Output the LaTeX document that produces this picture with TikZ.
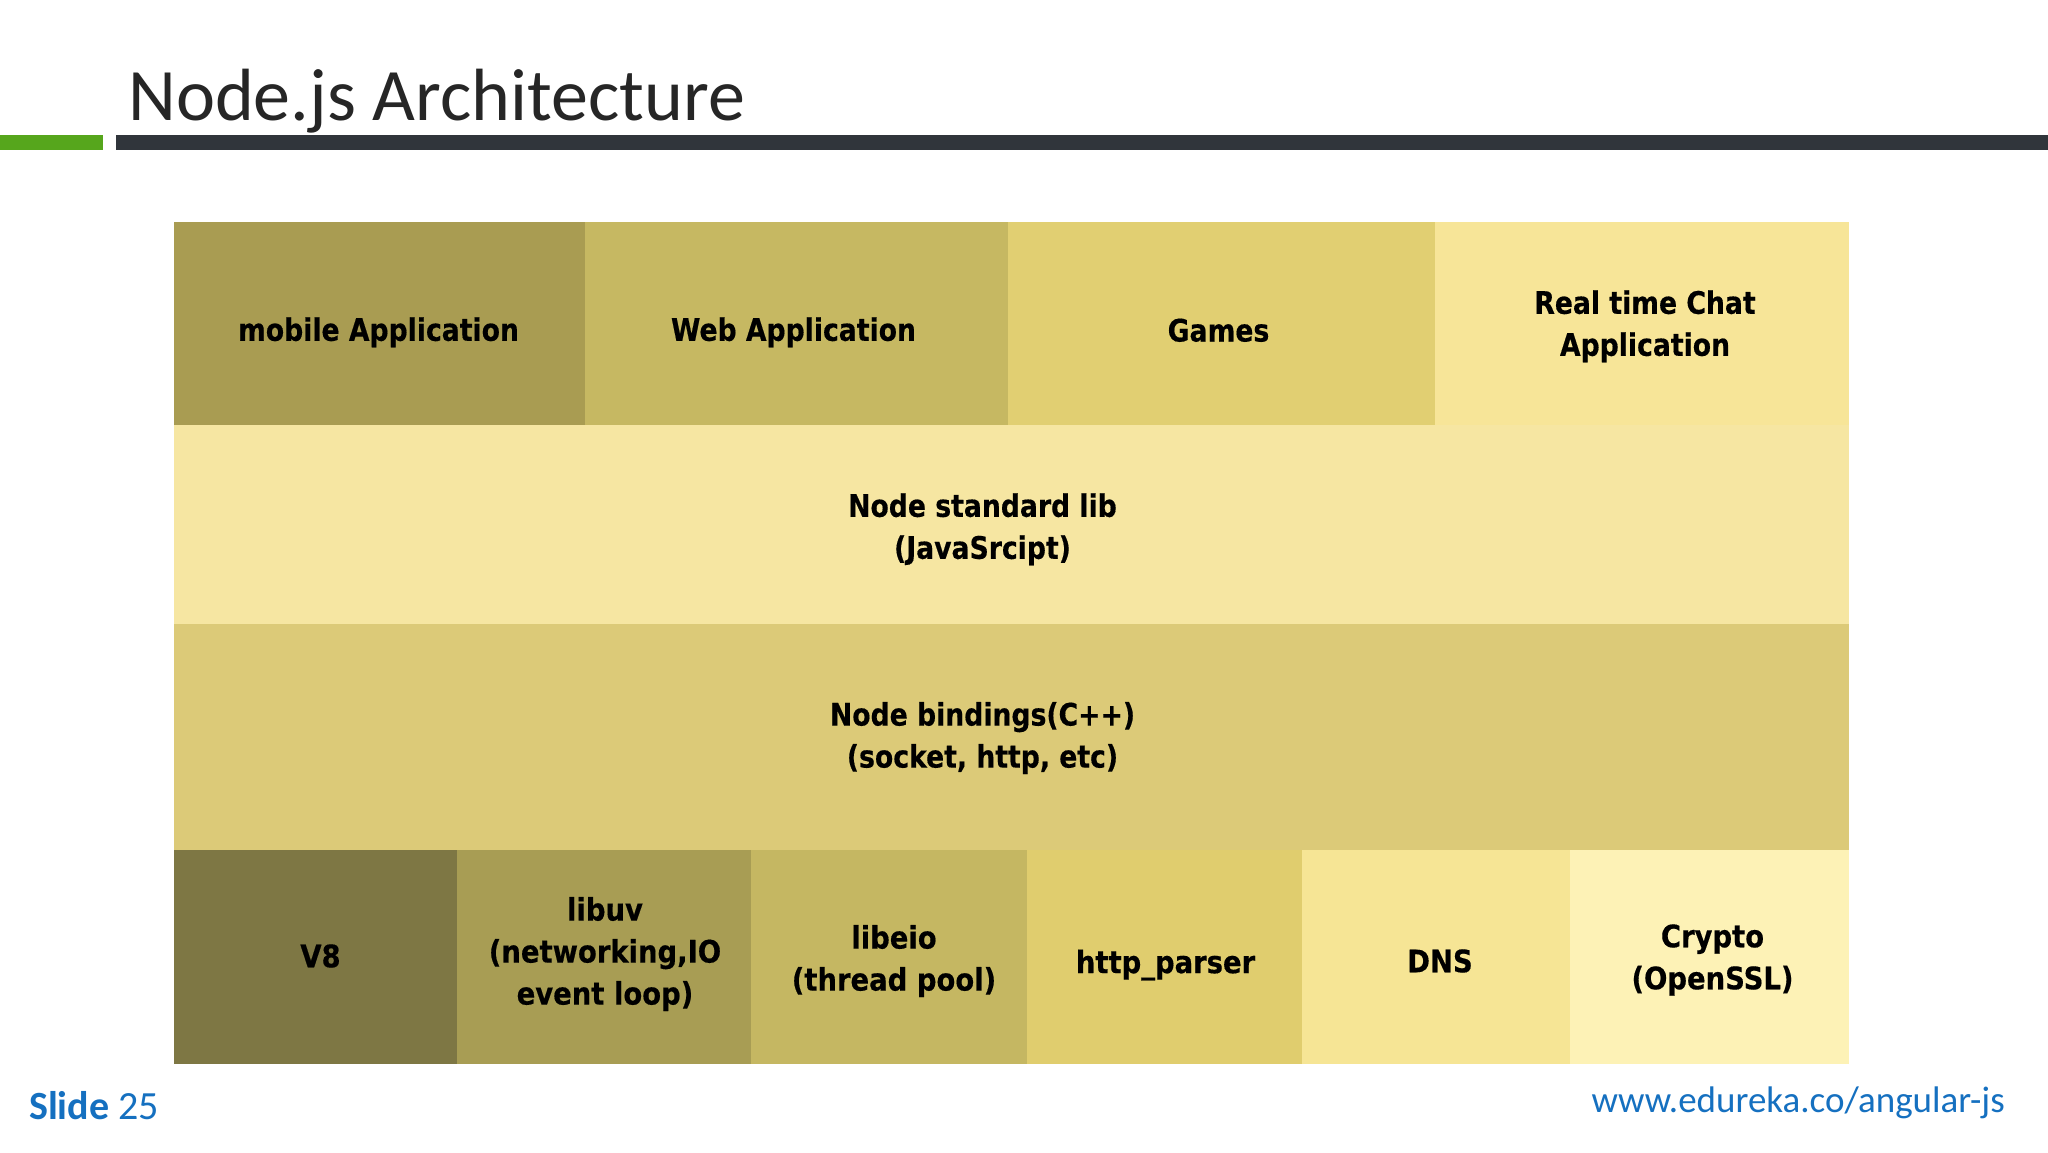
\documentclass[tikz,border=0pt]{standalone}
\usepackage{fontspec}
\setmainfont{Carlito}
\newfontfamily\cellfont{DejaVu Sans}[FakeStretch=0.86,FakeBold=0.4]
\newfontfamily\cellfontn{DejaVu Sans}[FakeStretch=0.885,FakeBold=0.4]
\definecolor{cMobile}{HTML}{A99C52}
\definecolor{cWeb}{HTML}{C6B862}
\definecolor{cGames}{HTML}{E1CF72}
\definecolor{cChat}{HTML}{F7E598}
\definecolor{cStd}{HTML}{F6E6A2}
\definecolor{cBind}{HTML}{DCCA78}
\definecolor{cVE}{HTML}{7E7744}
\definecolor{cUV}{HTML}{A89D54}
\definecolor{cEIO}{HTML}{C5B762}
\definecolor{cHttp}{HTML}{E0CD6E}
\definecolor{cDNS}{HTML}{F6E595}
\definecolor{cCrypto}{HTML}{FDF2B6}
\definecolor{titlegray}{HTML}{262626}
\definecolor{barGreen}{HTML}{56A61C}
\definecolor{barDark}{HTML}{30353B}
\definecolor{footBlue}{HTML}{1570C0}
\tikzset{
  cell/.style={draw=none, inner sep=0pt, outer sep=0pt, anchor=north west},
  lab/.style={inner sep=0pt, outer sep=0pt, align=center, text=black,
    font=\cellfont\bfseries\fontsize{31}{42}\selectfont},
  labb/.style={lab, font=\cellfontn\bfseries\fontsize{31}{42}\selectfont},
  bar/.style={inner sep=0pt, outer sep=0pt, draw=none}
}
\begin{document}
\begin{tikzpicture}[x=1pt,y=-1pt]
\useasboundingbox[fill=white] (0,0) rectangle (2048,1152);
% title and bars
\node[anchor=base west, inner sep=0pt, text=titlegray, font=\fontsize{74}{80}\selectfont] (title) at (128,120) {Node.js Architecture};
\node[bar, fill=barGreen, minimum width=103pt, minimum height=15.5pt, anchor=north west] (gbar) at (0,134.5) {};
\node[bar, fill=barDark, minimum width=1932pt, minimum height=15.5pt, anchor=north west] (dbar) at (116,134.5) {};
% row 1
\node[cell, fill=cMobile, minimum width=411pt, minimum height=202.5pt] (mobile) at (174,222) {};
\node[cell, fill=cWeb, minimum width=423pt, minimum height=202.5pt] (web) at (585,222) {};
\node[cell, fill=cGames, minimum width=427pt, minimum height=202.5pt] (games) at (1008,222) {};
\node[cell, fill=cChat, minimum width=414pt, minimum height=202.5pt] (chat) at (1435,222) {};
% row 2
\node[cell, fill=cStd, minimum width=1675pt, minimum height=199.5pt] (stdlib) at (174,424.5) {};
% row 3
\node[cell, fill=cBind, minimum width=1675pt, minimum height=226pt] (bind) at (174,624) {};
% row 4
\node[cell, fill=cVE, minimum width=283pt, minimum height=214pt] (v8) at (174,850) {};
\node[cell, fill=cUV, minimum width=294pt, minimum height=214pt] (libuv) at (457,850) {};
\node[cell, fill=cEIO, minimum width=276pt, minimum height=214pt] (libeio) at (751,850) {};
\node[cell, fill=cHttp, minimum width=275pt, minimum height=214pt] (http) at (1027,850) {};
\node[cell, fill=cDNS, minimum width=268pt, minimum height=214pt] (dns) at (1302,850) {};
\node[cell, fill=cCrypto, minimum width=279pt, minimum height=214pt] (crypto) at (1570,850) {};
% labels
\node[lab] (tMobile) at ([shift={(-1,9)}]mobile.center) {mobile Application};
\node[lab] (tWeb) at ([shift={(-3,9)}]web.center) {Web Application};
\node[lab] (tGames) at ([shift={(-3,7)}]games.center) {Games};
\node[lab] (tChat) at ([shift={(3,3)}]chat.center) {Real time Chat\\Application};
\node[lab] (tStd) at ([shift={(-29,5)}]stdlib.center) {Node standard lib\\(JavaSrcipt)};
\node[lab] (tBind) at ([shift={(-29,1)}]bind.center) {Node bindings(C++)\\(socket, http, etc)};
\node[labb] (tV8) at ([shift={(5,-1)}]v8.center) {V8};
\node[labb] (tUV) at ([shift={(1,-3)}]libuv.center) {libuv\\(networking,IO\\event loop)};
\node[labb] (tEIO) at ([shift={(5,4)}]libeio.center) {libeio\\(thread pool)};
\node[labb] (tHttp) at ([shift={(1,8)}]http.center) {http\_parser};
\node[labb] (tDNS) at ([shift={(4,4)}]dns.center) {DNS};
\node[labb] (tCrypto) at ([shift={(3,3)}]crypto.center) {Crypto\\(OpenSSL)};
% footer
\node[anchor=base west, inner sep=0pt, text=footBlue, font=\fontsize{40}{44}\selectfont] (slide) at (29,1119) {\textbf{Slide} 25};
\node[anchor=base east, inner sep=0pt, text=footBlue, font=\fontsize{37}{42}\selectfont] (url) at (2005,1112) {www.edureka.co/angular-js};
\end{tikzpicture}
\end{document}
